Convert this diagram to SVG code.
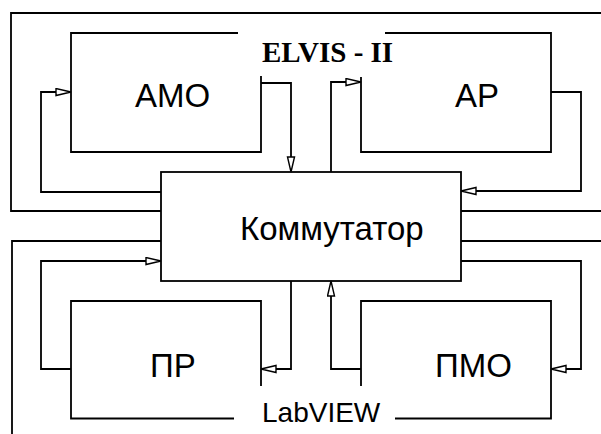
<svg xmlns="http://www.w3.org/2000/svg" width="601" height="434" viewBox="0 0 601 434">
<style>
.ln{fill:none;stroke:#000;stroke-width:1.8}
.lbl{font-family:"Liberation Sans",Arial,sans-serif;font-size:33px;fill:#000}
.ar{fill:none;stroke:#000;stroke-width:1.8;marker-end:url(#ah)}
</style>
<defs>
<marker id="ah" markerUnits="userSpaceOnUse" markerWidth="17" markerHeight="10" viewBox="-1 -1 17 10" refX="15" refY="3.5" orient="auto">
<path d="M0,0 L15,3.5 L0,7 Z" fill="#fff" stroke="#000" stroke-width="1.4"/>
</marker>
</defs>
<rect width="601" height="434" fill="#fff"/>
<g id="elvis-frame">
<path class="ln" d="M601,13 H11 V211 H161 M461,211 H601"/>
<text x="262" y="62" font-family="'Liberation Serif','Times New Roman',serif" font-weight="bold" font-size="29">ELVIS - II</text>
</g>
<g id="labview-frame">
<path class="ln" d="M161,241 H12 V434 M461,241 H601"/>
<text x="262" y="422" font-family="'Liberation Sans',Arial,sans-serif" font-size="28">LabVIEW</text>
</g>
<g id="amo">
<path class="ln" d="M238,33 H71 V152 H261 V76"/>
<text class="lbl" x="135" y="107">АМО</text>
</g>
<g id="ap">
<path class="ln" d="M385,33 H551 V152 H361 V77"/>
<text class="lbl" x="455" y="107">АР</text>
</g>
<g id="pr">
<path class="ln" d="M261,386 V301 H71 V418.5 H234"/>
<text class="lbl" x="150" y="377">ПР</text>
</g>
<g id="pmo">
<path class="ln" d="M361,386 V301 H551 V418.5 H395"/>
<text class="lbl" x="435" y="377">ПМО</text>
</g>
<g id="kommutator">
<rect class="ln" x="161" y="172" width="300" height="109"/>
<text class="lbl" x="240" y="240">Коммутатор</text>
</g>
<g id="connectors">
<path class="ar" d="M261,83 H291 V172"/>
<path class="ar" d="M161,192 H41 V92 H71"/>
<path class="ar" d="M331,172 V82 H361"/>
<path class="ar" d="M551,92 H581 V191 H461"/>
<path class="ar" d="M71,369 H41 V261 H161"/>
<path class="ar" d="M291,281 V369 H261"/>
<path class="ar" d="M361,369 H331 V281"/>
<path class="ar" d="M461,261 H581 V369 H551"/>
</g>
</svg>
